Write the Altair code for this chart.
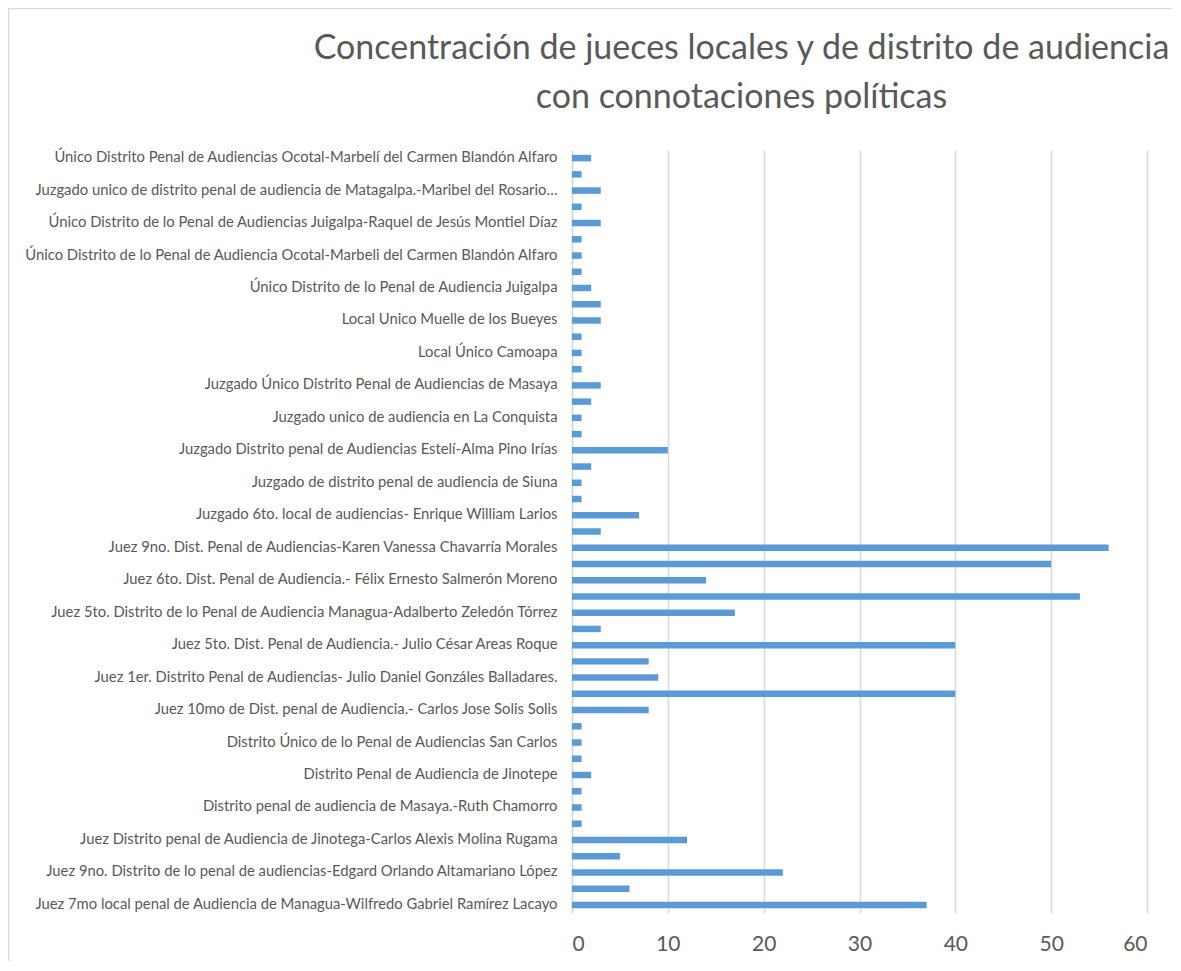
import altair as alt
import pandas as pd

# Categories, top to bottom ("" = label not shown on the axis)
labels = [
    "Único Distrito Penal de Audiencias Ocotal-Marbelí del Carmen Blandón Alfaro", "",
    "Juzgado unico de distrito penal de audiencia de Matagalpa.-Maribel del Rosario…", "",
    "Único Distrito de lo Penal de Audiencias Juigalpa-Raquel de Jesús Montiel Díaz", "",
    "Único Distrito de lo Penal de Audiencia Ocotal-Marbeli del Carmen Blandón Alfaro", "",
    "Único Distrito de lo Penal de Audiencia Juigalpa", "",
    "Local Unico Muelle de los Bueyes", "",
    "Local Único Camoapa", "",
    "Juzgado Único Distrito Penal de Audiencias de Masaya", "",
    "Juzgado unico de audiencia en La Conquista", "",
    "Juzgado Distrito penal de Audiencias Estelí-Alma Pino Irías", "",
    "Juzgado de distrito penal de audiencia de Siuna", "",
    "Juzgado 6to. local de audiencias- Enrique William Larios", "",
    "Juez 9no. Dist. Penal de Audiencias-Karen Vanessa Chavarría Morales", "",
    "Juez 6to. Dist. Penal de Audiencia.- Félix Ernesto Salmerón Moreno", "",
    "Juez 5to. Distrito de lo Penal de Audiencia Managua-Adalberto Zeledón Tórrez", "",
    "Juez 5to. Dist. Penal de Audiencia.- Julio César Areas Roque", "",
    "Juez 1er. Distrito Penal de Audiencias- Julio Daniel Gonzáles Balladares.", "",
    "Juez 10mo de Dist. penal de Audiencia.- Carlos Jose Solis Solis", "",
    "Distrito Único de lo Penal de Audiencias San Carlos", "",
    "Distrito Penal de Audiencia de Jinotepe", "",
    "Distrito penal de audiencia de Masaya.-Ruth Chamorro", "",
    "Juez Distrito penal de Audiencia de Jinotega-Carlos Alexis Molina Rugama", "",
    "Juez 9no. Distrito de lo penal de audiencias-Edgard Orlando Altamariano López", "",
    "Juez 7mo local penal de Audiencia de Managua-Wilfredo Gabriel Ramírez Lacayo",
]

values = [
    2, 1, 3, 1, 3, 1, 1, 1, 2, 3,
    3, 1, 1, 1, 3, 2, 1, 1, 10, 2,
    1, 1, 7, 3, 56, 50, 14, 53, 17, 3,
    40, 8, 9, 40, 8, 1, 1, 1, 2, 1,
    1, 1, 12, 5, 22, 6, 37,
]

x_ticks = [0, 10, 20, 30, 40, 50, 60]

title_lines = [
    "Concentración de jueces locales y de distrito de audiencia",
    "con connotaciones políticas",
]

keys = [lab if lab else f"#{i}" for i, lab in enumerate(labels)]
df = pd.DataFrame({"cat": keys, "value": values})

FONT = "Lato"
GREY = "#595959"

bars = alt.Chart(df).mark_bar(color="#5B9BD5").encode(
    x=alt.X(
        "value:Q",
        scale=alt.Scale(domain=[0, 60], nice=False),
        axis=alt.Axis(
            values=x_ticks, title=None, domain=False, ticks=False,
            grid=True, gridColor="#d9d9d9", gridWidth=1.5,
            labelFontSize=21, labelColor=GREY, labelFont=FONT, labelPadding=20,
        ),
    ),
    y=alt.Y(
        "cat:N",
        sort=keys,
        scale=alt.Scale(paddingInner=0.6, paddingOuter=0.3),
        axis=alt.Axis(
            title=None, ticks=False, domain=True, domainColor="#d9d9d9", domainWidth=1.5,
            labelFontSize=14.8, labelColor=GREY, labelFont=FONT, labelPadding=15,
            labelLimit=700,
            labelExpr="indexof(datum.label, '#') === 0 ? '' : datum.label",
        ),
    ),
)

# light chart-area border (decoration only)
border = alt.Chart(pd.DataFrame({"b": [0]})).mark_rect(
    fill=None, stroke="#d9d9d9", strokeWidth=1.5
).encode(
    x=alt.value(-563.5), x2=alt.value(700),
    y=alt.value(-141.5), y2=alt.value(900),
)

chart = alt.layer(border, bars).properties(
    width=575,
    height=763,
    autosize=alt.AutoSizeParams(type="none"),
    padding={"left": 564, "top": 142, "right": 25, "bottom": 48},
    title=alt.TitleParams(
        text=title_lines, font=FONT, fontSize=34, fontWeight="normal",
        color=GREY, anchor="middle", frame="group", dx=-118, lineHeight=49,
        offset=-107,
    ),
).configure_view(stroke=None)

chart.save("out.html", embed_options={"renderer": "svg", "actions": False})
